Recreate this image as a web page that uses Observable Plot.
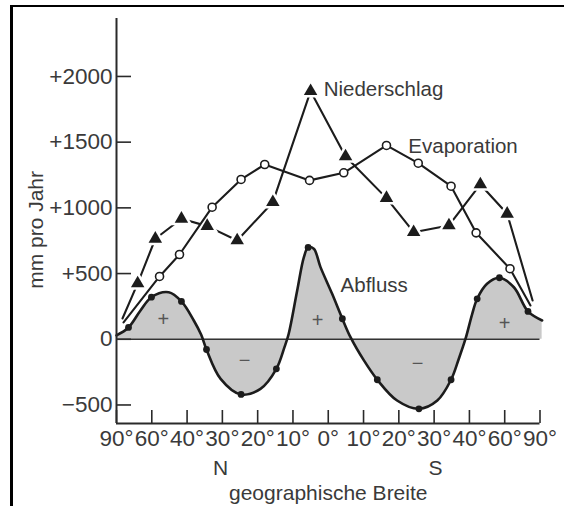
<!DOCTYPE html>
<html><head><meta charset="utf-8">
<script src="https://cdn.jsdelivr.net/npm/d3@7"></script>
<script src="https://cdn.jsdelivr.net/npm/@observablehq/plot@0.6"></script>
<style>
html,body{margin:0;padding:0;background:#fff;}
#wrap{position:relative;width:564px;height:506px;overflow:hidden;}
#wrap svg{position:absolute;left:0;top:0;}
#border{position:absolute;left:10px;top:5px;right:-10px;bottom:-10px;border-left:3px solid #000;border-top:2.5px solid #000;pointer-events:none;}
</style></head><body><div id="wrap"><div id="border"></div></div>
<script>
// x positions are expressed on the tick index scale (0 = 90°N ... 6 = 0° ... 12 = 90°S)
const latLabels = ["90°","60°","40°","30°","20°","10°","0°","10°","20°","30°","40°","60°","90°"];
const yTicks = [-500, 0, 500, 1000, 1500, 2000];
const yTickLabels = ["−500", "0", "+500", "+1000", "+1500", "+2000"];

// Niederschlag (precipitation)
const niederLat    = [0.17, 0.60, 1.10, 1.84, 2.57, 3.42, 4.43, 5.50, 6.49, 7.65, 8.42, 9.42, 10.31, 11.07, 11.79];
const niederVal    = [158, 425, 765, 917, 861, 752, 1043, 1888, 1391, 1074, 815, 866, 1178, 955, 295];
const niederMarked = [false, true, true, true, true, true, true, true, true, true, true, true, true, true, false];

// Evaporation
const evapLat    = [0.20, 1.22, 1.785, 2.71, 3.53, 4.20, 5.47, 6.44, 7.65, 8.55, 9.48, 10.19, 11.15, 11.73];
const evapVal    = [128, 478, 645, 1005, 1216, 1330, 1209, 1267, 1475, 1340, 1165, 810, 537, 257];
const evapMarked = [false, true, true, true, true, true, true, true, true, true, true, true, true, false];

// Abfluss (runoff) curve; marked = drawn dot
const abflussLat = [0, 0.34, 0.68, 0.99, 1.48, 1.84, 2.19, 2.40, 2.55, 2.95, 3.53, 4.08, 4.53, 4.76, 4.88, 5.12, 5.31, 5.43, 5.59, 5.78, 6.11, 6.40, 6.63, 7.01, 7.39, 7.95, 8.57, 9.09, 9.48, 9.70, 9.89, 10.08, 10.22, 10.50, 10.85, 11.26, 11.66, 12.06];
const abflussVal = [30, 90, 219, 320, 358, 288, 143, 34, -78, -301, -420, -377, -225, -60, 42, 371, 625, 699, 689, 549, 346, 156, 16, -161, -308, -466, -529, -466, -308, -148, 4, 194, 308, 422, 468, 396, 212, 143];
const abflussMarked = [false, true, false, true, false, true, false, false, true, false, true, false, true, false, false, false, false, true, false, false, false, true, false, false, true, false, true, false, true, false, false, false, true, false, true, false, true, false];

// Annotations (data coordinates)
const seriesLabels = ["Niederschlag", "Evaporation", "Abfluss"];
const seriesLabelLat = [5.87, 8.27, 6.35];
const seriesLabelVal = [1901, 1467, 409];
const signLabels = ["+", "−", "+", "−", "+"];
const signLat = [1.33, 3.63, 5.70, 8.53, 11.0];
const signVal = [151, -161, 143, -184, 120];
const hemiLabels = ["N", "S"];
const hemiLat = [2.95, 9.04];
const yTitle = ["mm pro Jahr"];
const yTitleLat = [-2.27];
const yTitleVal = [832];

const yMin = -641, yMax = 2441;

const nieder = niederLat.map((x, i) => ({x, y: niederVal[i], m: niederMarked[i]}));
const evap = evapLat.map((x, i) => ({x, y: evapVal[i], m: evapMarked[i]}));
const abfluss = abflussLat.map((x, i) => ({x, y: abflussVal[i], m: abflussMarked[i]}));
const annot = seriesLabels.map((t, i) => ({t, x: seriesLabelLat[i], y: seriesLabelVal[i]}));
const signs = signLabels.map((t, i) => ({t, x: signLat[i], y: signVal[i]}));
const hemis = hemiLabels.map((t, i) => ({t, x: hemiLat[i]}));
const ytitle = yTitle.map((t, i) => ({t, x: yTitleLat[i], y: yTitleVal[i]}));

const ink = "#1c1c1c";
const txt = "#3a3a3a";
const font = "'Liberation Sans', Arial, Helvetica, sans-serif";

const chart = Plot.plot({
  width: 564,
  height: 506,
  marginLeft: 116,
  marginRight: 24.5,
  marginTop: 18,
  marginBottom: 83,
  style: {fontFamily: font, background: "transparent", color: txt, overflow: "visible"},
  x: {domain: [0, 12], axis: null},
  y: {domain: [yMin, yMax], axis: null},
  marks: [
    Plot.areaY(abfluss, {x: "x", y1: 0, y2: "y", curve: "catmull-rom", fill: "#c9c9c9"}),
    Plot.ruleY([0], {stroke: "#333", strokeWidth: 1.4}),
    Plot.line(abfluss, {x: "x", y: "y", curve: "catmull-rom", stroke: ink, strokeWidth: 2.6}),
    Plot.dot(abfluss.filter(d => d.m), {x: "x", y: "y", r: 3.4, fill: ink}),

    Plot.line(nieder, {x: "x", y: "y", stroke: ink, strokeWidth: 2.1}),
    Plot.dot(nieder.filter(d => d.m), {x: "x", y: "y", symbol: "triangle", r: 5, fill: "white", stroke: "white", strokeWidth: 5}),
    Plot.dot(nieder.filter(d => d.m), {x: "x", y: "y", symbol: "triangle", r: 5, fill: ink, stroke: "none"}),

    Plot.line(evap, {x: "x", y: "y", stroke: ink, strokeWidth: 2.1}),
    Plot.dot(evap.filter(d => d.m), {x: "x", y: "y", r: 4, fill: "white", stroke: ink, strokeWidth: 1.6}),

    Plot.text(annot, {x: "x", y: "y", text: "t", textAnchor: "start", fontSize: 20.5, fill: txt}),
    Plot.text(signs, {x: "x", y: "y", text: "t", fontSize: 20, fill: "#555", fontWeight: 300}),

    // axis lines
    Plot.ruleX([0], {stroke: "#2a2a2a", strokeWidth: 2}),
    Plot.ruleY([yMin], {stroke: "#2a2a2a", strokeWidth: 2}),

    Plot.axisY({ticks: yTicks, tickFormat: d => yTickLabels[yTicks.indexOf(d)], tickSize: -15, tickPadding: 19, fontSize: 22.5, fill: txt, stroke: "#2a2a2a", strokeWidth: 1.6, label: null}),
    Plot.axisX({ticks: d3.range(0, 13), tickFormat: d => latLabels[d], tickSize: -13, tickPadding: 20, fontSize: 22.5, fill: txt, stroke: "#2a2a2a", strokeWidth: 1.6, label: null}),

    Plot.text(hemis, {x: "x", text: "t", frameAnchor: "bottom", dy: 51, fontSize: 21, fill: txt}),
    Plot.text(["geographische Breite"], {frameAnchor: "bottom", dy: 76, fontSize: 21, fill: txt}),
    Plot.text(ytitle, {x: "x", y: "y", text: "t", textAnchor: "middle", rotate: -90, fontSize: 21, fill: txt, clip: false})
  ]
});
document.getElementById("wrap").appendChild(chart);
</script>
</body></html>
